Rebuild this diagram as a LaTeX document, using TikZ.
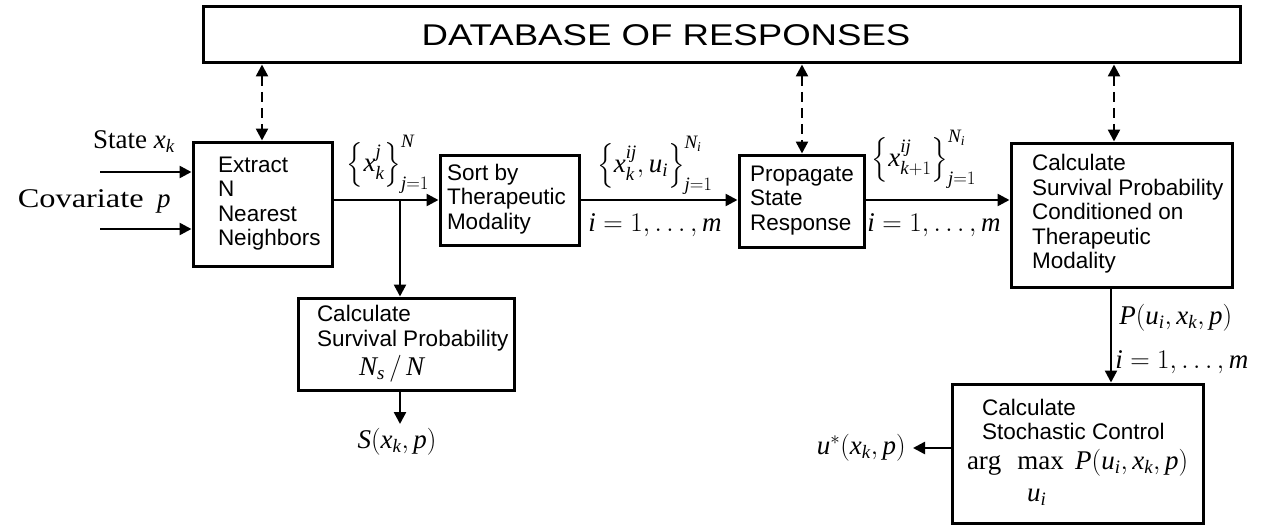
\RequirePackage{fix-cm}
\documentclass[tikz,border=0pt]{standalone}
\usepackage{graphicx}
\usepackage{amsmath}
\usepackage{fontspec}
\setmainfont{Liberation Serif}
\setsansfont{Liberation Sans}
\newfontfamily\dbfont[FakeStretch=1.22]{Liberation Sans}
\DeclareSymbolFont{tletters}{TU}{\rmdefault}{m}{it}
\Umathcode`x=7 \symtletters `x
\Umathcode`k=7 \symtletters `k
\Umathcode`j=7 \symtletters `j
\Umathcode`N=7 \symtletters `N
\Umathcode`u=7 \symtletters `u
\Umathcode`i=7 \symtletters `i
\Umathcode`m=7 \symtletters `m
\Umathcode`p=7 \symtletters `p
\Umathcode`P=7 \symtletters `P
\Umathcode`S=7 \symtletters `S
\Umathcode`s=7 \symtletters `s
\usetikzlibrary{arrows.meta}
\newcommand\bxt[3]{\makebox[#1pt][l]{\hspace*{#2pt}\begin{tabular}{@{}l@{}}#3\end{tabular}}}
\begin{document}
\begin{tikzpicture}[x=1pt,y=-1pt,line width=2.5pt,
  box/.style={draw,line width=3pt,inner sep=0pt,font=\sffamily\fontsize{22.5}{24.5}\selectfont},
  arr/.style={-{Triangle[length=12pt,width=12pt]}},
  darr/.style={{Triangle[length=12pt,width=12pt]}-{Triangle[length=12pt,width=12pt]},dash pattern=on 10pt off 6pt},
  mlab/.style={font=\fontsize{27}{30}\selectfont,inner sep=0pt}]
\path[use as bounding box] (0,0) rectangle (1262,527);

% boxes
\node[box,minimum width=1037pt,minimum height=56pt] (db) at (721.5,35) {};
\node[font=\dbfont\fontsize{30}{32}\selectfont,inner sep=0pt] (dbt) at (666,35) {DATABASE OF RESPONSES};
\node[box,minimum height=124pt] (extract) at (262.5,204) {\bxt{139}{25}{Extract\\N\\Nearest\\Neighbors}};
\node[box,minimum height=90pt] (sort) at (509.5,200) {\bxt{139}{7}{Sort by\\Therapeutic\\Modality}};
\node[box,minimum height=92pt] (prop) at (801.5,201) {\bxt{125}{11}{Propagate\\State\\Response}};
\node[box,minimum height=144pt] (cond) at (1121.5,215) {\bxt{221}{21}{Calculate\\Survival Probability\\Conditioned on\\Therapeutic\\Modality}};
\node[box,minimum height=92pt] (surv) at (406,344) {\bxt{216}{19}{Calculate\\Survival Probability\\[2pt]\hspace*{42pt}{\rmfamily\fontsize{27}{30}\selectfont$N_s\,/\,N$}}};
\node[box,minimum height=139pt] (stoch) at (1077.5,453.5) {\bxt{251}{15}{\hspace*{15pt}Calculate\\\hspace*{15pt}Stochastic Control\\[2pt]
 {\rmfamily\fontsize{27}{30}\selectfont$\arg$\hspace{16pt}$\max\ P(u_i,x_k,p)$}\\[8pt]
 \hspace*{60pt}{\rmfamily\fontsize{27}{30}\selectfont$u_i$}}};

% input texts
\node[mlab,anchor=base east] (state) at (176,148) {State $x_k$};
\node[mlab,anchor=base east] (cov) at (172,207) {\scalebox{1.2}[1]{Covariate}\ \ $p$};
\coordinate (in1) at (100,172);
\coordinate (in2) at (100,229);
\draw[arr] (in1) -- (in1 -| extract.west);
\draw[arr] (in2) -- (in2 -| extract.west);

% main flow
\draw[arr] (extract.east |- sort.west) -- (sort.west);
\coordinate (br) at (400,200);
\draw[arr] (br) -- (br |- surv.north);
\draw[arr] (sort.east) -- (sort.east -| prop.west);
\draw[arr] (prop.east |- 0,200) -- (cond.west |- 0,200);
\coordinate (c1) at (1111,0);
\draw[arr] (c1 |- cond.south) -- (c1 |- stoch.north);

% outputs
\node[mlab,anchor=north,inner ysep=3pt] (S) at (397,424) {$S(x_k,p)$};
\draw[arr] (br |- surv.south) -- (br |- S.north);
\node[mlab,anchor=east,inner xsep=6pt] (ustar) at (913,448) {$u^{*}(x_k,p)$};
\draw[arr] (stoch.west |- ustar.east) -- (ustar.east);

% dashed links
\coordinate (d1) at (262,0);
\coordinate (d2) at (802,0);
\coordinate (d3) at (1114,0);
\draw[darr] (d1 |- db.south) -- (d1 |- extract.north);
\draw[darr] (d2 |- db.south) -- (d2 |- prop.north);
\draw[darr] (d3 |- db.south) -- (d3 |- cond.north);

% labels
\node[mlab,anchor=south] (l1) at (388,195) {$\Bigl\{x_k^{j}\Bigr\}_{j=1}^{N}$};
\node[mlab,anchor=south] (l2) at (655,196) {$\Bigl\{x_k^{ij},u_i\Bigr\}_{j=1}^{N_i}$};
\node[mlab,anchor=north] (l3) at (655,212) {$i=1,\ldots,m$};
\node[mlab,anchor=south] (l4) at (924,190) {$\Bigl\{x_{k+1}^{ij}\Bigr\}_{j=1}^{N_i}$};
\node[mlab,anchor=north] (l5) at (934,212) {$i=1,\ldots,m$};
\node[mlab,anchor=west] (l6) at (1118,318) {$P(u_i,x_k,p)$};
\node[mlab,anchor=west] (l7) at (1114,362) {$i=1,\ldots,m$};
\end{tikzpicture}
\end{document}
